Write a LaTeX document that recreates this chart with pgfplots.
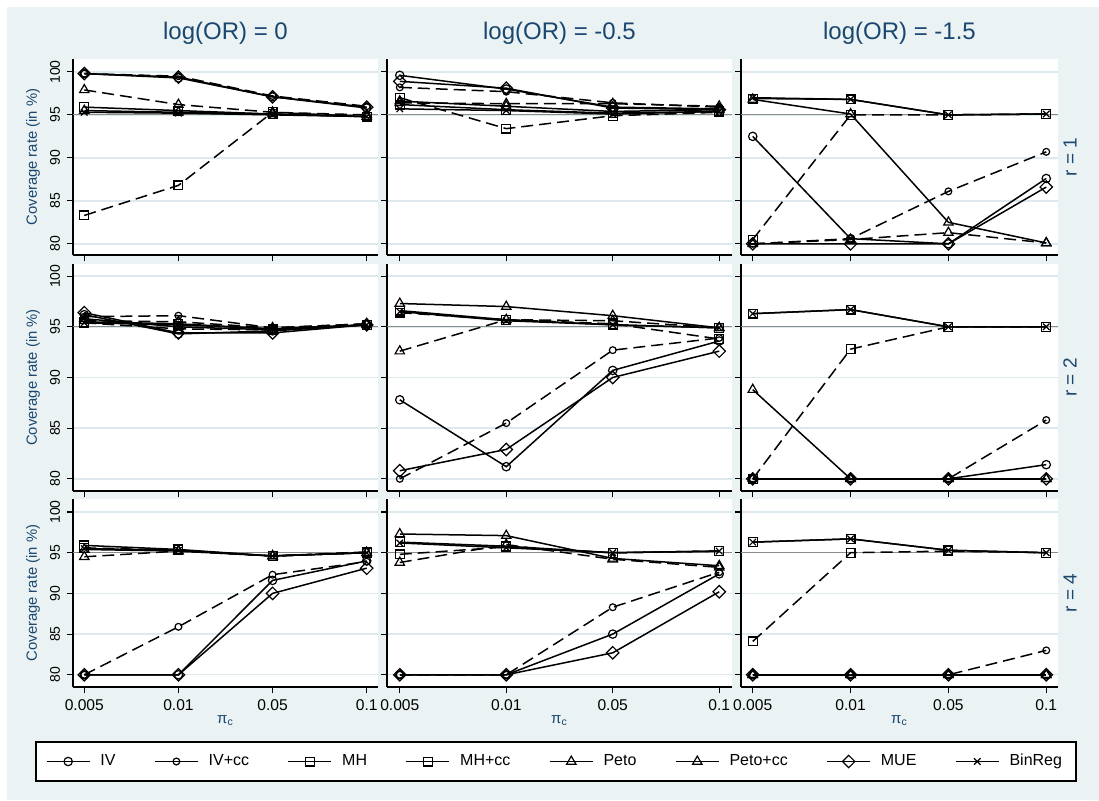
\documentclass[border=0pt]{standalone}
\usepackage{fontspec}
\setmainfont{Liberation Sans}
\usepackage{pgfplots}
\usepackage{pgfplotstable}
\pgfplotsset{compat=1.18}
\definecolor{bgc}{RGB}{234,242,243}
\definecolor{gridc}{RGB}{222,233,238}
\definecolor{dknavy}{RGB}{26,71,111}

% columns: x = 0 (0.005), 1 (0.01), 2 (0.05), 3 (0.1)
\pgfplotstableread{
x IV IVcc MH MHcc Peto Petocc MUE BinReg
0 99.8 99.8 95.9 83.3 95.5 97.9 99.8 95.3
1 99.3 99.5 95.5 86.8 95.3 96.2 99.4 95.2
2 97.1 97.2 95.1 95.3 95.1 95.3 97.1 95.0
3 95.8 96.0 94.8 94.8 94.8 95.0 95.9 94.8
}\tAA
\pgfplotstableread{
x IV IVcc MH MHcc Peto Petocc MUE BinReg
0 99.6 98.2 96.2 97.0 96.6 96.4 98.9 95.7
1 98.0 97.7 95.6 93.4 96.0 96.3 98.1 95.5
2 95.9 96.4 95.2 94.9 95.4 96.3 95.8 95.1
3 95.7 95.9 95.4 95.3 95.6 96.0 95.6 95.4
}\tAB
\pgfplotstableread{
x IV IVcc MH MHcc Peto Petocc MUE BinReg
0 92.5 80.0 96.9 80.5 96.8 80.0 80.0 97.0
1 80.6 80.6 96.8 95.0 95.1 80.5 80.0 96.8
2 80.0 86.1 95.0 95.0 82.5 81.3 80.0 95.0
3 87.6 90.7 95.1 95.1 80.1 80.1 86.6 95.1
}\tAC
\pgfplotstableread{
x IV IVcc MH MHcc Peto Petocc MUE BinReg
0 96.2 96.0 95.5 95.4 95.8 95.6 96.4 95.4
1 94.3 96.1 95.3 94.8 95.0 95.5 94.4 95.2
2 94.6 94.9 94.8 94.7 94.7 94.9 94.4 94.8
3 95.2 95.3 95.2 95.2 95.2 95.3 95.2 95.2
}\tBA
\pgfplotstableread{
x IV IVcc MH MHcc Peto Petocc MUE BinReg
0 87.8 80.0 96.6 96.4 97.3 92.6 80.8 96.5
1 81.2 85.5 95.7 95.7 97.0 95.7 82.9 95.6
2 90.7 92.7 95.2 95.3 96.1 95.6 90.0 95.2
3 93.6 93.9 94.9 93.8 94.9 94.9 92.6 94.9
}\tBB
\pgfplotstableread{
x IV IVcc MH MHcc Peto Petocc MUE BinReg
0 80.0 80.0 96.3 80.0 88.8 80.0 80.0 96.3
1 80.0 80.0 96.7 92.8 80.0 80.0 80.0 96.7
2 80.0 80.0 95.0 95.0 80.0 80.0 80.0 95.0
3 81.4 85.8 95.0 95.0 80.0 80.0 80.0 95.0
}\tBC
\pgfplotstableread{
x IV IVcc MH MHcc Peto Petocc MUE BinReg
0 80.0 80.0 95.9 95.6 95.4 94.5 80.0 95.5
1 80.0 85.9 95.4 95.3 95.2 95.2 80.0 95.3
2 91.6 92.3 94.6 94.6 94.6 94.6 90.0 94.6
3 94.0 93.9 95.0 95.1 95.0 95.0 93.1 95.0
}\tCA
\pgfplotstableread{
x IV IVcc MH MHcc Peto Petocc MUE BinReg
0 80.0 80.0 96.3 94.8 97.3 93.8 80.0 96.2
1 80.0 80.0 95.8 95.7 97.1 96.0 80.0 95.6
2 85.0 88.3 95.0 95.0 94.3 94.2 82.7 95.0
3 92.4 92.6 95.2 95.2 93.4 93.2 90.2 95.2
}\tCB
\pgfplotstableread{
x IV IVcc MH MHcc Peto Petocc MUE BinReg
0 80.0 80.0 96.3 84.1 80.0 80.0 80.0 96.3
1 80.0 80.0 96.7 95.0 80.0 80.0 80.0 96.7
2 80.0 80.0 95.3 95.2 80.0 80.0 80.0 95.3
3 80.0 83.0 95.0 95.0 80.0 80.0 80.0 95.0
}\tCC

\pgfplotsset{
  base/.style={black, line width=0.75pt, mark options={solid, fill=white, line width=0.6pt}},
  dsh/.style={dash pattern=on 6pt off 3pt},
  sIV/.style={base, solid, mark=o, mark size=2.1pt},
  sIVcc/.style={base, dsh, mark=o, mark size=1.7pt},
  sMH/.style={base, solid, mark=square, mark size=2.2pt},
  sMHcc/.style={base, dsh, mark=square, mark size=2.2pt},
  sPeto/.style={base, solid, mark=triangle, mark size=2.7pt},
  sPetocc/.style={base, dsh, mark=triangle, mark size=2.7pt},
  sMUE/.style={base, solid, mark=square, mark size=2.2pt, mark options={solid, fill=white, line width=0.6pt, rotate=45}},
  sBin/.style={base, solid, mark=x, mark size=2.3pt},
  panel/.style={
    scale only axis, anchor=south west, clip=false,
    axis background/.style={fill=white},
    xmin=-0.12, xmax=3.12, xtick={0,1,2,3}, xticklabels={},
    ytick={80,85,90,95,100}, yticklabels={},
    axis x line*=bottom, axis y line*=left,
    axis line style={black, line width=0.75pt, -},
    tick style={black, line width=0.6pt}, tick align=outside, major tick length=3pt,
    ymajorgrids, major grid style={gridc, line width=0.7pt},
    extra y ticks={95}, extra y tick labels={},
    extra y tick style={grid=major, major grid style={black!45, line width=0.6pt}, major tick length=0pt},
    title style={font=\fontsize{12}{14}\selectfont, text=dknavy, at={(0.5,1)}, anchor=base, yshift=3.5pt},
  },
  col1/.style={
    yticklabels={80,85,90,95,100},
    yticklabel style={rotate=90, anchor=south, font=\fontsize{7}{8}\selectfont},
    ylabel={Coverage rate (in \%)},
    ylabel style={at={(axis description cs:-0.131,0.5)}, anchor=center, font=\fontsize{7.4}{9}\selectfont, text=dknavy},
  },
  row3/.style={
    xticklabels={0.005,0.01,0.05,0.1},
    xticklabel style={font=\fontsize{7.8}{9}\selectfont},
    xlabel={π\textsubscript{c}},
    xlabel style={at={(axis description cs:0.5,0)}, anchor=center, yshift=-17pt, font=\fontsize{7.5}{9}\selectfont, text=dknavy},
  },
}
\newcommand{\series}[1]{%
  \addplot[sIVcc] table[x=x,y=IVcc]{#1};
  \addplot[sMHcc] table[x=x,y=MHcc]{#1};
  \addplot[sPetocc] table[x=x,y=Petocc]{#1};
  \addplot[sMUE] table[x=x,y=MUE]{#1};
  \addplot[sIV] table[x=x,y=IV]{#1};
  \addplot[sPeto] table[x=x,y=Peto]{#1};
  \addplot[sMH] table[x=x,y=MH]{#1};
  \addplot[sBin] table[x=x,y=BinReg]{#1};
}

\begin{document}
\begin{tikzpicture}
\useasboundingbox (0,0) rectangle (549.5pt,400pt);
\fill[white] (0,0) rectangle (549.5pt,400pt);
\fill[bgc] (3.5pt,0) rectangle (549.5pt,396.5pt);

% row 1
\begin{axis}[panel, col1, at={(36.5pt,272.5pt)}, width=152.5pt, height=98pt, ymin=78.7, ymax=101.5, title={log(OR) = 0}]
\series{\tAA}
\end{axis}
\begin{axis}[panel, at={(193.5pt,272.5pt)}, width=172.5pt, height=98pt, ymin=78.7, ymax=101.5, title={log(OR) = -0.5}]
\series{\tAB}
\end{axis}
\begin{axis}[panel, at={(370.5pt,272.5pt)}, width=158.5pt, height=98pt, ymin=78.7, ymax=101.5, title={log(OR) = -1.5}]
\series{\tAC}
\node[rotate=90, anchor=center, font=\fontsize{9.5}{11}\selectfont, text=dknavy] at (axis description cs:1.038,0.5) {r = 1};
\end{axis}

% row 2
\begin{axis}[panel, col1, at={(36.5pt,154.5pt)}, width=152.5pt, height=113.5pt, ymin=78.8, ymax=101.2]
\series{\tBA}
\end{axis}
\begin{axis}[panel, at={(193.5pt,154.5pt)}, width=172.5pt, height=113.5pt, ymin=78.8, ymax=101.2]
\series{\tBB}
\end{axis}
\begin{axis}[panel, at={(370.5pt,154.5pt)}, width=158.5pt, height=113.5pt, ymin=78.8, ymax=101.2]
\series{\tBC}
\node[rotate=90, anchor=center, font=\fontsize{9.5}{11}\selectfont, text=dknavy] at (axis description cs:1.038,0.5) {r = 2};
\end{axis}

% row 3
\begin{axis}[panel, col1, row3, at={(36.5pt,56.5pt)}, width=152.5pt, height=94pt, ymin=78.5, ymax=101.6]
\series{\tCA}
\end{axis}
\begin{axis}[panel, row3, at={(193.5pt,56.5pt)}, width=172.5pt, height=94pt, ymin=78.5, ymax=101.6]
\series{\tCB}
\end{axis}
\begin{axis}[panel, row3, at={(370.5pt,56.5pt)}, width=158.5pt, height=94pt, ymin=78.5, ymax=101.6]
\series{\tCC}
\node[rotate=90, anchor=center, font=\fontsize{9.5}{11}\selectfont, text=dknavy] at (axis description cs:1.038,0.5) {r = 4};
\end{axis}

% legend
\begin{axis}[at={(278pt,19.25pt)}, anchor=center, scale only axis, width=10pt, height=10pt,
  hide axis, xmin=0, xmax=1, ymin=0, ymax=1,
  legend columns=8,
  legend style={at={(0.5,0.5)}, anchor=center, draw=black, line width=1pt, fill=white,
    font=\fontsize{8}{9}\selectfont, inner xsep=5pt, inner ysep=4pt,
    /tikz/every even column/.append style={column sep=17.3pt},
    /tikz/every odd column/.append style={column sep=3pt}},
  legend image code/.code={\draw[mark repeat=2, mark phase=2, #1, solid] plot coordinates {(0pt,0pt) (10.75pt,0pt) (21.5pt,0pt)};}
]
\addlegendimage{sIV}\addlegendentry{IV}
\addlegendimage{sIVcc}\addlegendentry{IV+cc}
\addlegendimage{sMH}\addlegendentry{MH}
\addlegendimage{sMHcc}\addlegendentry{MH+cc}
\addlegendimage{sPeto}\addlegendentry{Peto}
\addlegendimage{sPetocc}\addlegendentry{Peto+cc}
\addlegendimage{sMUE}\addlegendentry{MUE}
\addlegendimage{sBin}\addlegendentry{BinReg}
\end{axis}
\end{tikzpicture}
\end{document}
